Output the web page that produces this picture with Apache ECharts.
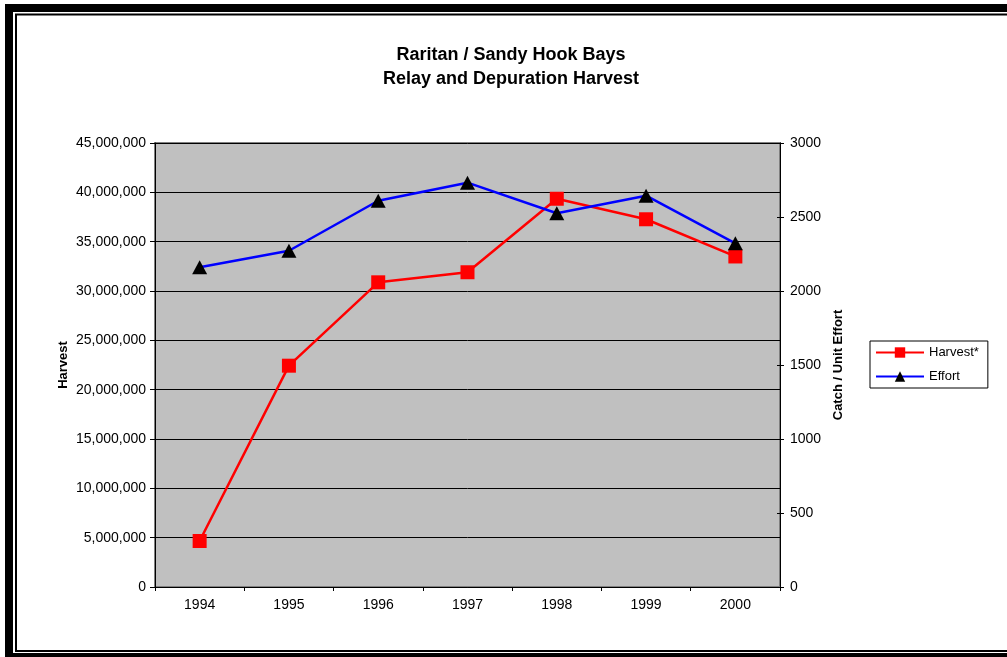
<!DOCTYPE html>
<html>
<head>
<meta charset="utf-8">
<script src="https://cdn.jsdelivr.net/npm/echarts@6/dist/echarts.min.js"></script>
<style>
html,body{margin:0;padding:0;background:#fff;}
#main{width:1007px;height:657px;}
</style>
</head>
<body>
<div id="main"></div>
<script>
var years = ['1994','1995','1996','1997','1998','1999','2000'];
var harvest = [4660000, 22430000, 30880000, 31900000, 39350000, 37270000, 33500000];
var effort = [2160, 2272, 2610, 2732, 2525, 2644, 2322];
var titleLines = ['Raritan / Sandy Hook Bays', 'Relay and Depuration Harvest'];
var seriesNames = ['Harvest*', 'Effort'];
var axisNames = ['Harvest', 'Catch / Unit Effort'];

var FONT = 'Liberation Sans, Arial, sans-serif';
var chart = echarts.init(document.getElementById('main'), null, {renderer: 'canvas'});

var option = {
  backgroundColor: '#ffffff',
  animation: false,
  textStyle: {fontFamily: FONT, color: '#000'},
  title: {
    text: titleLines.join('\n'),
    left: 511,
    top: 43,
    padding: 0,
    textAlign: 'center',
    textStyle: {fontFamily: FONT, fontSize: 18, fontWeight: 'bold', color: '#000', lineHeight: 24}
  },
  graphic: [
    {type: 'rect', z: 100, silent: true, shape: {x: 9, y: 8, width: 1010, height: 649},
     style: {fill: null, stroke: '#000', lineWidth: 8}},
    {type: 'rect', z: 100, silent: true, shape: {x: 16, y: 14.5, width: 1000, height: 636.5},
     style: {fill: null, stroke: '#000', lineWidth: 2}}
  ],
  legend: {
    orient: 'vertical',
    left: 870,
    top: 341,
    padding: [5, 9, 5, 5],
    itemGap: 11,
    itemWidth: 48,
    itemHeight: 13,
    borderColor: '#000',
    borderWidth: 1,
    textStyle: {fontFamily: FONT, fontSize: 13, color: '#000'},
    data: seriesNames
  },
  grid: {
    left: 155, right: 227, top: 143, bottom: 70,
    show: true,
    backgroundColor: '#C0C0C0',
    borderColor: '#808080',
    borderWidth: 2
  },
  xAxis: {
    type: 'category',
    data: years,
    boundaryGap: true,
    axisLine: {lineStyle: {color: '#000', width: 1}},
    axisTick: {show: true, interval: 0, length: 4, lineStyle: {color: '#000'}},
    axisLabel: {fontFamily: FONT, fontSize: 14, color: '#000', margin: 11, interval: 0},
    splitLine: {show: false}
  },
  yAxis: [
    {
      type: 'value',
      position: 'left',
      min: 0, max: 45000000, interval: 5000000,
      name: axisNames[0],
      nameLocation: 'middle',
      nameRotate: 90,
      nameGap: 85,
      nameMoveOverlap: false,
      nameTextStyle: {fontFamily: FONT, fontSize: 13, fontWeight: 'bold', color: '#000'},
      axisLine: {show: true, lineStyle: {color: '#000', width: 1}},
      axisTick: {show: true, length: 5, lineStyle: {color: '#000'}},
      axisLabel: {fontFamily: FONT, fontSize: 14, color: '#000', margin: 9,
        formatter: function (v) { return v.toLocaleString('en-US'); }},
      splitLine: {show: true, lineStyle: {color: '#000', width: 1}}
    },
    {
      type: 'value',
      position: 'right',
      min: 0, max: 3000, interval: 500,
      name: axisNames[1],
      nameLocation: 'middle',
      nameRotate: 90,
      nameGap: 52,
      nameMoveOverlap: false,
      nameTextStyle: {fontFamily: FONT, fontSize: 13, fontWeight: 'bold', color: '#000'},
      axisLine: {show: true, lineStyle: {color: '#000', width: 1}},
      axisTick: {show: true, length: 4, lineStyle: {color: '#000'}},
      axisLabel: {fontFamily: FONT, fontSize: 14, color: '#000', margin: 10,
        formatter: function (v) { return String(v); }},
      splitLine: {show: false}
    },
    {
      type: 'value',
      position: 'right',
      min: 0, max: 3000, interval: 500,
      axisLine: {show: false},
      axisTick: {show: true, inside: true, length: 3, lineStyle: {color: '#000'}},
      axisLabel: {show: false},
      splitLine: {show: false}
    }
  ],
  series: [
    {
      name: seriesNames[0],
      type: 'line',
      yAxisIndex: 0,
      data: harvest,
      symbol: 'rect',
      symbolSize: 14,
      lineStyle: {color: '#FF0000', width: 2.5},
      itemStyle: {color: '#FF0000', borderColor: '#FF0000', borderWidth: 0}
    },
    {
      name: seriesNames[1],
      type: 'line',
      yAxisIndex: 1,
      data: effort,
      symbol: 'triangle',
      symbolSize: [15, 14],
      lineStyle: {color: '#0000FF', width: 2.5},
      itemStyle: {color: '#000000', borderColor: '#000000', borderWidth: 0}
    }
  ]
};
chart.setOption(option);
</script>
</body>
</html>
